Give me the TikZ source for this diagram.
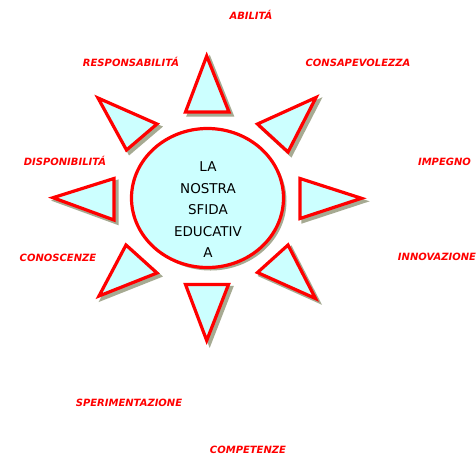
\documentclass[tikz,border=0pt]{standalone}
\usepackage{fontspec}
\setmainfont{DejaVu Sans}
\usetikzlibrary{shapes.geometric,shadows}
\definecolor{rayred}{HTML}{FF0000}
\definecolor{rayfill}{HTML}{CCFFFF}
\definecolor{shadowc}{HTML}{A6AA92}
\tikzset{
  ray/.style={draw=rayred, fill=rayfill, line width=3.2pt, line join=miter,
    preaction={draw=shadowc, fill=shadowc, line width=3.2pt,
      transform canvas={shift={(3pt,-3pt)}}}},
  sun/.style={ellipse, draw=rayred, fill=rayfill, line width=3.2pt,
    minimum width=152pt, minimum height=139pt, inner sep=0pt,
    general shadow={shadow xshift=3pt, shadow yshift=-3pt, fill=shadowc}},
  lbl/.style={anchor=base, text=rayred, inner sep=0pt,
    font=\fontsize{10}{12}\selectfont\bfseries\itshape},
  centertext/.style={align=center, inner sep=0pt,
    font=\fontsize{13.5}{21.5}\selectfont}
}
\begin{document}
\begin{tikzpicture}[x=1pt,y=-1pt]
\useasboundingbox[fill=white] (0,0) rectangle (476,456);
% rays
\draw[ray] (206.7,56) -- (185.5,112) -- (229,112) -- cycle;
\draw[ray] (98,98) -- (157,124) -- (126.5,150) -- cycle;
\draw[ray] (316,97.5) -- (257.5,124) -- (288,152) -- cycle;
\draw[ray] (300,178.5) -- (361.5,198.3) -- (300,218.5) -- cycle;
\draw[ray] (53,197.7) -- (114,178.5) -- (114,220) -- cycle;
\draw[ray] (126,245) -- (157,273) -- (99,296) -- cycle;
\draw[ray] (288,245) -- (257.5,272.5) -- (315.5,298.5) -- cycle;
\draw[ray] (185.5,284.5) -- (228.5,284.5) -- (206.7,340.5) -- cycle;
% centre
\node[sun] (sun) at (207.5,198) {};
\node[centertext] (title) at (208,210) {LA\\NOSTRA\\SFIDA\\EDUCATIV\\A};
% labels
\node[lbl] (abil) at (251,19.6) {ABILITÁ};
\node[lbl] (resp) at (131,66.6) {RESPONSABILITÁ};
\node[lbl] (cons) at (358,66.6) {CONSAPEVOLEZZA};
\node[lbl] (disp) at (65,165.6) {DISPONIBILITÁ};
\node[lbl] (imp) at (444.5,165.6) {IMPEGNO};
\node[lbl] (cono) at (58,261.6) {CONOSCENZE};
\node[lbl] (inno) at (437,260.6) {INNOVAZIONE};
\node[lbl] (sper) at (129,406.6) {SPERIMENTAZIONE};
\node[lbl] (comp) at (248,453.5) {COMPETENZE};
\end{tikzpicture}
\end{document}
